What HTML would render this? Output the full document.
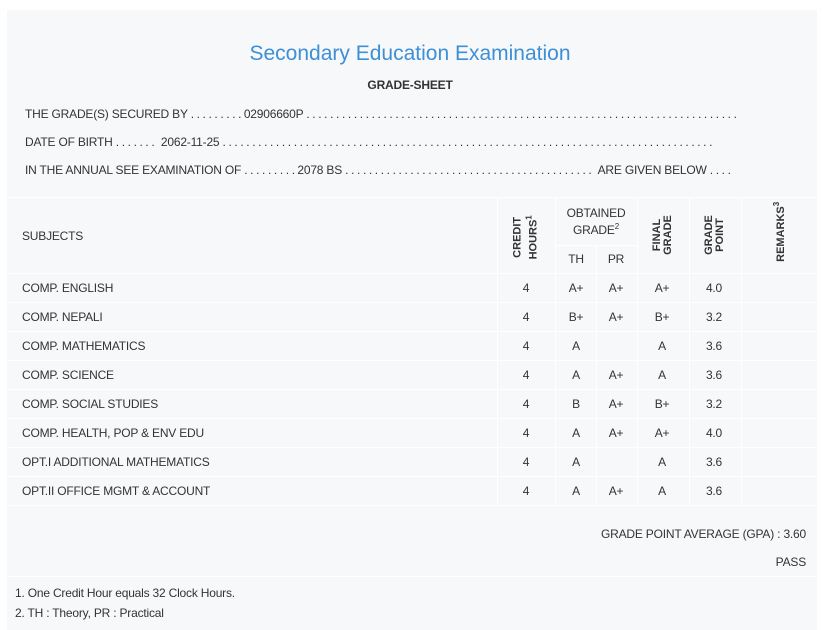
<!DOCTYPE html>
<html><head><style>
body{margin:0;background:#fff;width:823px;height:630px;overflow:hidden;font-family:"Liberation Sans",sans-serif;color:#333;}
#p{position:absolute;left:7px;top:10px;width:811px;height:620px;background:#f7f8f9;}
.t{position:absolute;font-size:12px;white-space:nowrap;letter-spacing:-0.2px;}
.h{position:absolute;background:#fff;height:1px;}
.v{position:absolute;background:#fff;width:1px;}
.c{text-align:center;transform:translateX(-50%);}
.r{position:absolute;font-size:11px;font-weight:bold;line-height:11px;text-align:center;transform:rotate(-90deg);transform-origin:center;white-space:nowrap;}
.d{display:inline-block;overflow:hidden;vertical-align:bottom;letter-spacing:2.6px;}
</style></head><body>
<div id="p"></div>
<div class="t c" style="left:410px;top:42px;font-size:21px;color:#3d8fd6;letter-spacing:0">Secondary Education Examination</div>
<div class="t c" style="left:410px;top:78px;font-weight:bold">GRADE-SHEET</div>
<div class="t" style="left:25px;top:107px">THE GRADE(S) SECURED BY <span class="d" style="width:50px">..........</span> 02906660P <span class="d" style="width:430px">................................................................................</span></div>
<div class="t" style="left:25px;top:135px">DATE OF BIRTH <span class="d" style="width:42px">..........</span> 2062-11-25 <span class="d" style="width:490px">................................................................................................</span></div>
<div class="t" style="left:25px;top:163px">IN THE ANNUAL SEE EXAMINATION OF <span class="d" style="width:50px">..........</span> 2078 BS <span class="d" style="width:250px">...................................................................</span> ARE GIVEN BELOW <span class="d" style="width:24px">.....</span></div>
<div class="h" style="left:7px;top:197px;width:811px"></div>
<div class="h" style="left:555px;top:245px;width:82px"></div>
<div class="h" style="left:7px;top:273px;width:811px"></div>
<div class="h" style="left:7px;top:302px;width:811px"></div>
<div class="h" style="left:7px;top:331px;width:811px"></div>
<div class="h" style="left:7px;top:360px;width:811px"></div>
<div class="h" style="left:7px;top:389px;width:811px"></div>
<div class="h" style="left:7px;top:418px;width:811px"></div>
<div class="h" style="left:7px;top:447px;width:811px"></div>
<div class="h" style="left:7px;top:476px;width:811px"></div>
<div class="h" style="left:7px;top:505px;width:811px"></div>
<div class="h" style="left:7px;top:576px;width:811px"></div>
<div class="v" style="left:497px;top:197px;height:308px"></div>
<div class="v" style="left:555px;top:197px;height:308px"></div>
<div class="v" style="left:596px;top:245px;height:260px"></div>
<div class="v" style="left:637px;top:197px;height:308px"></div>
<div class="v" style="left:689px;top:197px;height:308px"></div>
<div class="v" style="left:741px;top:197px;height:308px"></div>
<div class="v" style="left:817px;top:10px;height:620px"></div>
<div class="t" style="left:22px;top:229px">SUBJECTS</div>
<div class="r" style="left:496px;top:224px;width:60px">CREDIT<br>HOURS<sup style="font-size:8px">1</sup></div>
<div class="t c" style="left:596px;top:206px">OBTAINED</div>
<div class="t c" style="left:596px;top:222px">GRADE<sup style="font-size:8px">2</sup></div>
<div class="t c" style="left:576px;top:252px">TH</div>
<div class="t c" style="left:616px;top:252px">PR</div>
<div class="r" style="left:633px;top:224px;width:60px">FINAL<br>GRADE</div>
<div class="r" style="left:685px;top:224px;width:60px">GRADE<br>POINT</div>
<div class="r" style="left:743px;top:224px;width:72px;line-height:12px">REMARKS<sup style="font-size:8px">3</sup></div>
<div id="rows"></div>
<script>
var d=[["COMP. ENGLISH","A+","A+","A+","4.0"],["COMP. NEPALI","B+","A+","B+","3.2"],["COMP. MATHEMATICS","A","","A","3.6"],["COMP. SCIENCE","A","A+","A","3.6"],["COMP. SOCIAL STUDIES","B","A+","B+","3.2"],["COMP. HEALTH, POP &amp; ENV EDU","A","A+","A+","4.0"],["OPT.I ADDITIONAL MATHEMATICS","A","","A","3.6"],["OPT.II OFFICE MGMT &amp; ACCOUNT","A","A+","A","3.6"]];
var h="";d.forEach(function(r,i){var y=281+i*29;
h+='<div class="t" style="left:22px;top:'+y+'px">'+r[0]+'</div>';
var xs=[526,576,616,662,714],v=["4",r[1],r[2],r[3],r[4]];
for(var j=0;j<5;j++)h+='<div class="t c" style="left:'+xs[j]+'px;top:'+y+'px">'+v[j]+'</div>';});
document.getElementById("rows").innerHTML=h;
</script>
<div class="t" style="right:17px;top:527px">GRADE POINT AVERAGE (GPA) : 3.60</div>
<div class="t" style="right:17px;top:555px">PASS</div>
<div class="t" style="left:15px;top:586px">1. One Credit Hour equals 32 Clock Hours.</div>
<div class="t" style="left:15px;top:606px">2. TH : Theory, PR : Practical</div>
</body></html>
